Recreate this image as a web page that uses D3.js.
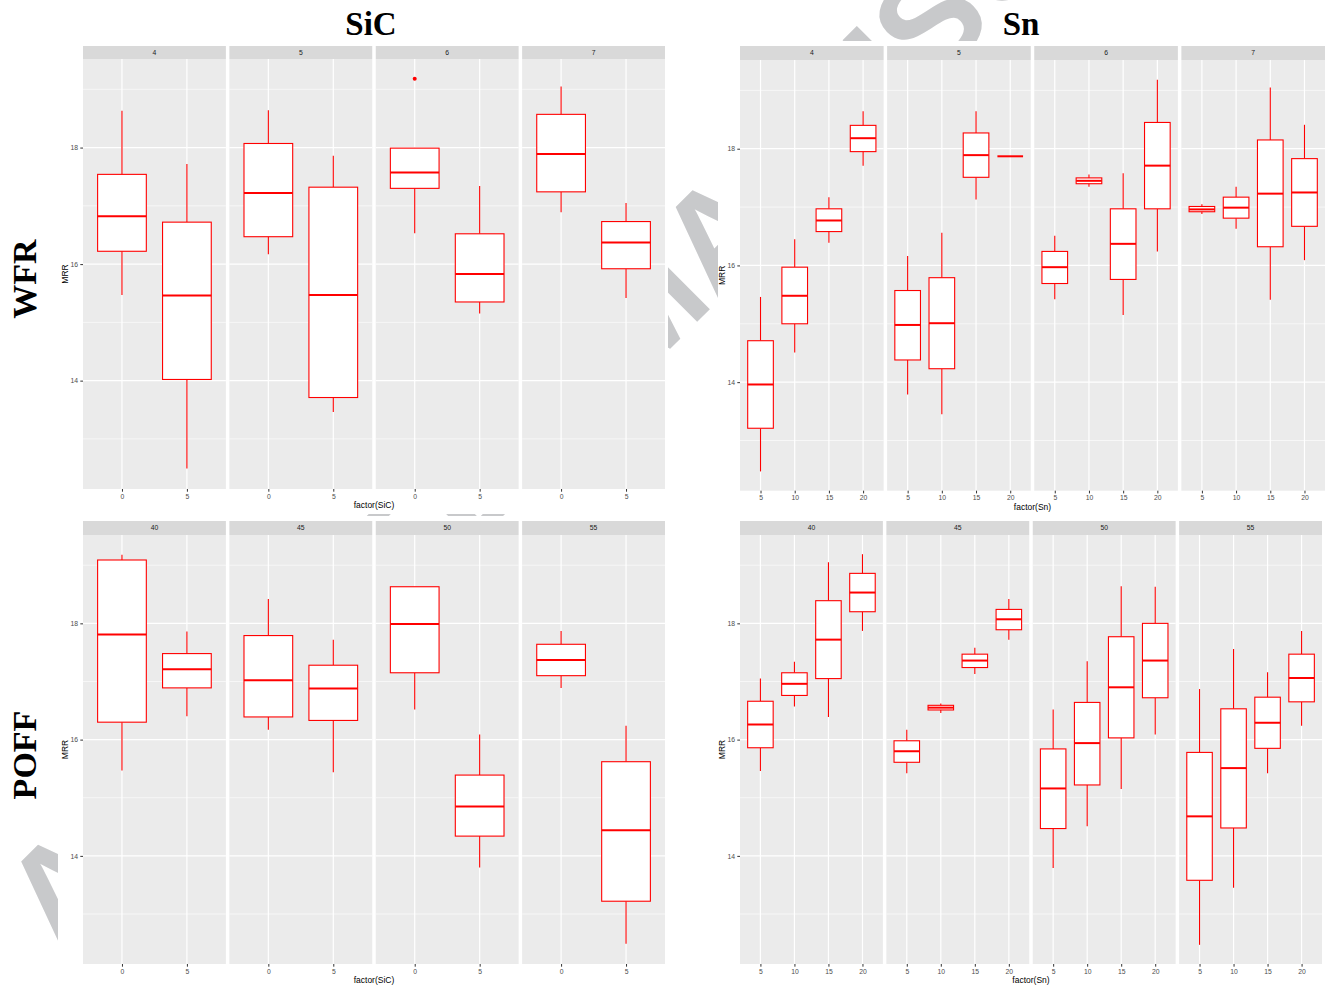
<!DOCTYPE html>
<html><head><meta charset="utf-8">
<script src="https://cdn.jsdelivr.net/npm/d3@7"></script>
<style>
body{margin:0;background:#fff}
svg{display:block}
</style>
</head><body>
<svg id="chart" width="1328" height="985"></svg>
<script>
// Factor levels and facet labels
const sicLevels = ["0", "5"];
const snLevels = ["5", "10", "15", "20"];
const wfrFacets = ["4", "5", "6", "7"];
const poffFacets = ["40", "45", "50", "55"];
const majorTicks = [14, 16, 18];
const minorTicks = [13, 15, 17, 19];
const yDomain = [12.14, 19.52];

// Box statistics per facet and level: [lower whisker, Q1, median, Q3, upper whisker]
const sicWfrStats = [
  [[15.47, 16.22, 16.82, 17.54, 18.63], [12.49, 14.02, 15.46, 16.72, 17.72]],
  [[16.17, 16.47, 17.22, 18.07, 18.64], [13.46, 13.71, 15.47, 17.32, 17.86]],
  [[16.53, 17.30, 17.57, 17.99, 17.99], [15.15, 15.35, 15.83, 16.52, 17.34]],
  [[16.89, 17.24, 17.89, 18.57, 19.05], [15.42, 15.92, 16.37, 16.73, 17.05]]
];
const sicWfrOutliers = [[], [], [[19.18], []], []];

const snWfrStats = [
  [[12.47, 13.21, 13.96, 14.71, 15.46], [14.51, 15.00, 15.48, 15.97, 16.45],
   [16.39, 16.58, 16.77, 16.97, 17.17], [17.71, 17.95, 18.18, 18.40, 18.64]],
  [[13.79, 14.38, 14.98, 15.57, 16.16], [13.45, 14.23, 15.01, 15.79, 16.56],
   [17.13, 17.51, 17.89, 18.27, 18.64], [17.87, 17.87, 17.87, 17.87, 17.87]],
  [[15.42, 15.69, 15.97, 16.24, 16.51], [17.35, 17.40, 17.45, 17.50, 17.56],
   [15.15, 15.76, 16.37, 16.97, 17.58], [16.24, 16.97, 17.71, 18.45, 19.18]],
  [[16.88, 16.92, 16.96, 17.01, 17.05], [16.63, 16.81, 16.99, 17.17, 17.35],
   [15.41, 16.32, 17.23, 18.15, 19.05], [16.09, 16.67, 17.25, 17.83, 18.41]]
];

const sicPoffStats = [
  [[15.47, 16.30, 17.81, 19.09, 19.18], [16.40, 16.89, 17.21, 17.48, 17.86]],
  [[16.17, 16.39, 17.02, 17.79, 18.42], [15.44, 16.33, 16.88, 17.28, 17.72]],
  [[16.52, 17.15, 17.99, 18.63, 18.63], [13.80, 14.34, 14.85, 15.39, 16.09]],
  [[16.89, 17.10, 17.37, 17.64, 17.87], [12.49, 13.22, 14.44, 15.62, 16.24]]
];

const snPoffStats = [
  [[15.46, 15.86, 16.26, 16.66, 17.05], [16.57, 16.76, 16.96, 17.15, 17.34],
   [16.39, 17.05, 17.72, 18.39, 19.05], [17.87, 18.20, 18.53, 18.86, 19.19]],
  [[15.42, 15.61, 15.80, 15.98, 16.17], [16.46, 16.51, 16.55, 16.59, 16.62],
   [17.13, 17.24, 17.36, 17.47, 17.58], [17.72, 17.89, 18.07, 18.24, 18.42]],
  [[13.79, 14.47, 15.16, 15.84, 16.52], [14.51, 15.22, 15.94, 16.64, 17.35],
   [15.15, 16.03, 16.90, 17.77, 18.64], [16.09, 16.72, 17.36, 18.00, 18.63]],
  [[12.47, 13.58, 14.68, 15.78, 16.87], [13.45, 14.48, 15.51, 16.53, 17.56],
   [15.42, 15.85, 16.29, 16.73, 17.16], [16.24, 16.65, 17.06, 17.47, 17.87]]
];

const svg = d3.select("#chart");
const FONT = "'Liberation Sans', Arial, Helvetica, sans-serif";
const SERIF = "'Liberation Serif', 'Times New Roman', Times, serif";

// Diagonal watermark behind the figure blocks
svg.append("text")
  .attr("transform", "translate(62,957) rotate(-45)")
  .attr("font-family", FONT).attr("font-weight", "bold").attr("font-size", 140)
  .attr("fill", "#C8C9CB")
  .text("ACCEPTED MANUSCRIPT");

// White backing of each figure block
const blockFrames = [
  [58, 41, 610, 473], [718, 41, 610, 473],
  [58, 516, 610, 469], [718, 516, 610, 469]
];
svg.selectAll(".frame").data(blockFrames).join("rect")
  .attr("x", d => d[0]).attr("y", d => d[1])
  .attr("width", d => d[2]).attr("height", d => d[3])
  .attr("fill", "#fff");

function drawBlock(cfg) {
  const gap = 3.5;
  const nF = cfg.facets.length;
  const pw = (cfg.x1 - cfg.x0 - gap * (nF - 1)) / nF;
  const y = d3.scaleLinear().domain(yDomain).range([cfg.plotBottom, cfg.plotTop]);
  const x = d3.scalePoint().domain(cfg.levels).range([0, pw]).padding(0.6);
  const boxW = x.step() * 0.75;
  const g = svg.append("g");

  cfg.facets.forEach((facet, i) => {
    const px = cfg.x0 + i * (pw + gap);
    const p = g.append("g").attr("transform", `translate(${px},0)`);

    // panel background
    p.append("rect").attr("x", 0).attr("y", cfg.plotTop)
      .attr("width", pw).attr("height", cfg.plotBottom - cfg.plotTop)
      .attr("fill", "#EBEBEB");
    // minor grid
    p.selectAll(".minor").data(minorTicks).join("line")
      .attr("x1", 0).attr("x2", pw)
      .attr("y1", d => y(d)).attr("y2", d => y(d))
      .attr("stroke", "#fff").attr("stroke-width", 0.6);
    // major grid
    p.selectAll(".major").data(majorTicks).join("line")
      .attr("x1", 0).attr("x2", pw)
      .attr("y1", d => y(d)).attr("y2", d => y(d))
      .attr("stroke", "#fff").attr("stroke-width", 1.2);
    p.selectAll(".vgrid").data(cfg.levels).join("line")
      .attr("x1", d => x(d)).attr("x2", d => x(d))
      .attr("y1", cfg.plotTop).attr("y2", cfg.plotBottom)
      .attr("stroke", "#fff").attr("stroke-width", 1.2);

    // strip
    p.append("rect").attr("x", 0).attr("y", cfg.stripTop)
      .attr("width", pw).attr("height", cfg.plotTop - cfg.stripTop)
      .attr("fill", "#D9D9D9");
    p.append("text").attr("x", pw / 2).attr("y", (cfg.stripTop + cfg.plotTop) / 2)
      .attr("dy", "0.35em").attr("text-anchor", "middle")
      .attr("font-family", FONT).attr("font-size", 6.8).attr("fill", "#1A1A1A")
      .text(facet);

    // boxplots
    const stats = cfg.stats[i];
    cfg.levels.forEach((lvl, j) => {
      const s = stats[j];
      const cx = x(lvl);
      const b = p.append("g");
      b.append("line").attr("x1", cx).attr("x2", cx)
        .attr("y1", y(s[4])).attr("y2", y(s[3]))
        .attr("stroke", "red").attr("stroke-width", 1.1);
      b.append("line").attr("x1", cx).attr("x2", cx)
        .attr("y1", y(s[1])).attr("y2", y(s[0]))
        .attr("stroke", "red").attr("stroke-width", 1.1);
      b.append("rect").attr("x", cx - boxW / 2).attr("width", boxW)
        .attr("y", y(s[3])).attr("height", Math.max(0, y(s[1]) - y(s[3])))
        .attr("fill", "#fff").attr("stroke", "red").attr("stroke-width", 1.1);
      b.append("line").attr("x1", cx - boxW / 2).attr("x2", cx + boxW / 2)
        .attr("y1", y(s[2])).attr("y2", y(s[2]))
        .attr("stroke", "red").attr("stroke-width", 2);
      const outs = (cfg.outliers && cfg.outliers[i] && cfg.outliers[i][j]) || [];
      outs.forEach(v => {
        b.append("circle").attr("cx", cx).attr("cy", y(v)).attr("r", 2)
          .attr("fill", "red");
      });
    });

    // x axis
    const xa = p.append("g").attr("transform", `translate(0,${cfg.plotBottom})`)
      .call(d3.axisBottom(x).tickSize(2.7).tickPadding(2.2));
    xa.select(".domain").remove();
    xa.selectAll("line").attr("stroke", "#333333").attr("stroke-width", 1);
    xa.selectAll("text").attr("font-family", FONT).attr("font-size", 6.8).attr("fill", "#4D4D4D");

    if (i === 0) {
      const ya = p.append("g")
        .call(d3.axisLeft(y).tickValues(majorTicks).tickFormat(d3.format("d"))
          .tickSize(2.7).tickPadding(2.2));
      ya.select(".domain").remove();
      ya.selectAll("line").attr("stroke", "#333333").attr("stroke-width", 1);
      ya.selectAll("text").attr("font-family", FONT).attr("font-size", 6.8).attr("fill", "#4D4D4D");
    }
  });

  // axis titles
  g.append("text").attr("x", (cfg.x0 + cfg.x1) / 2).attr("y", cfg.plotBottom + 19)
    .attr("text-anchor", "middle").attr("font-family", FONT).attr("font-size", 8.5)
    .attr("fill", "#000").text(cfg.xTitle);
  const ym = (cfg.plotTop + cfg.plotBottom) / 2;
  g.append("text").attr("transform", `translate(${cfg.x0 - 15},${ym}) rotate(-90)`)
    .attr("text-anchor", "middle").attr("font-family", FONT).attr("font-size", 8.5)
    .attr("fill", "#000").text("MRR");
}

drawBlock({x0: 83, x1: 665, stripTop: 46, plotTop: 59, plotBottom: 489,
  facets: wfrFacets, levels: sicLevels, stats: sicWfrStats, outliers: sicWfrOutliers,
  xTitle: "factor(SiC)"});
drawBlock({x0: 740, x1: 1325, stripTop: 46, plotTop: 60, plotBottom: 490.7,
  facets: wfrFacets, levels: snLevels, stats: snWfrStats, xTitle: "factor(Sn)"});
drawBlock({x0: 83, x1: 665, stripTop: 521, plotTop: 535, plotBottom: 964,
  facets: poffFacets, levels: sicLevels, stats: sicPoffStats, xTitle: "factor(SiC)"});
drawBlock({x0: 740, x1: 1322, stripTop: 521, plotTop: 535, plotBottom: 964,
  facets: poffFacets, levels: snLevels, stats: snPoffStats, xTitle: "factor(Sn)"});

// Column and row headings
svg.append("text").attr("x", 371).attr("y", 35).attr("text-anchor", "middle")
  .attr("font-family", SERIF).attr("font-weight", "bold").attr("font-size", 33)
  .text("SiC");
svg.append("text").attr("x", 1021).attr("y", 35).attr("text-anchor", "middle")
  .attr("font-family", SERIF).attr("font-weight", "bold").attr("font-size", 33)
  .text("Sn");
svg.append("text").attr("transform", "translate(36,279) rotate(-90)")
  .attr("text-anchor", "middle")
  .attr("font-family", SERIF).attr("font-weight", "bold").attr("font-size", 34)
  .text("WFR");
svg.append("text").attr("transform", "translate(36,755) rotate(-90)")
  .attr("text-anchor", "middle")
  .attr("font-family", SERIF).attr("font-weight", "bold").attr("font-size", 34)
  .text("POFF");
</script>
</body></html>
